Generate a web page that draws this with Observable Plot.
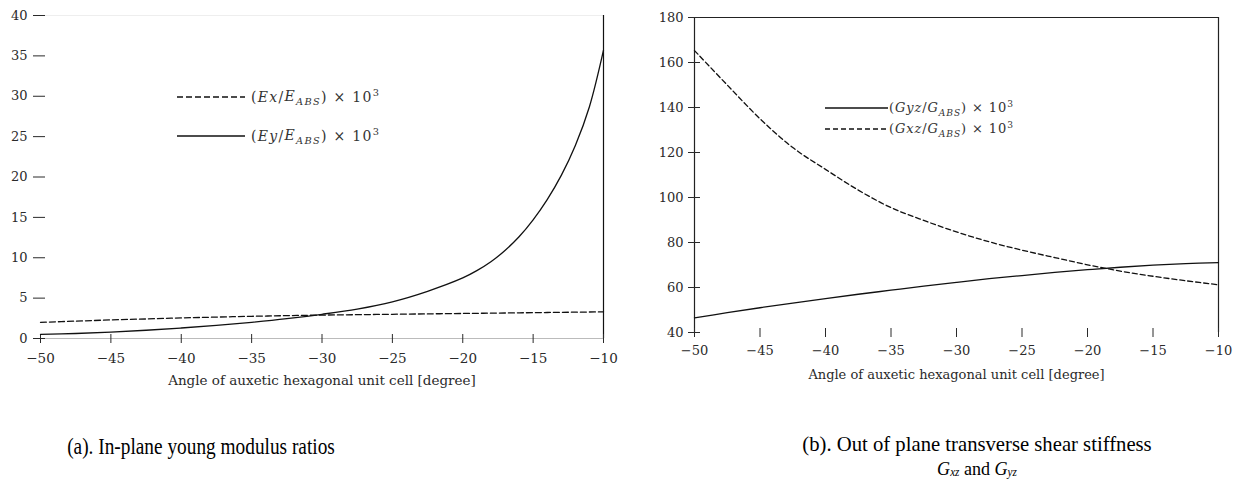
<!DOCTYPE html>
<html>
<head>
<meta charset="utf-8">
<script src="https://cdn.jsdelivr.net/npm/d3@7"></script>
<script src="https://cdn.jsdelivr.net/npm/@observablehq/plot@0.6"></script>
<style>
  html, body { margin: 0; padding: 0; background: #fff; }
  #wrap { position: relative; width: 1241px; height: 479px; overflow: hidden; font-family: "Liberation Serif", "DejaVu Serif", serif; }
  .panel { position: absolute; top: 0; }
  .legend { position: absolute; font-family: "DejaVu Serif", serif; color: #333; white-space: nowrap; }
  .legend .row { position: absolute; display: flex; align-items: center; white-space: nowrap; height: 20px; }
  .legend svg { display: block; }
  .caption { position: absolute; font-family: "Liberation Serif", "Times New Roman", serif; font-size: 23px; color: #000; text-align: center; white-space: nowrap; }
  .caption sub { font-size: 0.62em; vertical-align: -0.12em; line-height: 0; }
  .legend sub, .legend sup { font-size: 0.7em; }
</style>
</head>
<body>
<div id="wrap">
  <div id="plotA" class="panel" style="left:0px"></div>
  <div id="plotB" class="panel" style="left:620px"></div>
  <div id="legA"></div>
  <div id="legB"></div>
  <div class="caption" style="left:1px; width:400px; top:434px; line-height:26px; transform: scaleX(0.84);">(a). In-plane young modulus ratios</div>
  <div class="caption" style="left:777px; width:400px; top:433px; font-size:22px; line-height:22px; transform: scaleX(0.94);">(b). Out of plane transverse shear stiffness</div>
  <div class="caption" style="left:777px; width:400px; top:459px; font-size:19px; line-height:19px; transform: scaleX(0.95);"><i>G<sub>xz</sub></i> and <i>G<sub>yz</sub></i></div>
</div>
<script>
// ---------- data ----------
const angleE = [-50, -47.5, -45, -42.5, -40, -37.5, -35, -32.5, -30, -27.5, -25, -22.5, -20, -19, -18, -17, -16, -15, -14, -13, -12, -11, -10];
const ratioEx = [2.0, 2.15, 2.3, 2.42, 2.55, 2.65, 2.75, 2.83, 2.9, 2.95, 3.0, 3.05, 3.1, 3.12, 3.14, 3.16, 3.18, 3.2, 3.22, 3.24, 3.26, 3.28, 3.3];
const ratioEy = [0.5, 0.62, 0.8, 1.02, 1.3, 1.62, 2.0, 2.45, 3.0, 3.65, 4.55, 5.85, 7.5, 8.4, 9.5, 10.9, 12.6, 14.7, 17.2, 20.2, 23.9, 28.7, 35.7];

const angleG = [-50, -47.5, -45, -42.5, -40, -37.5, -35, -32.5, -30, -27.5, -25, -22.5, -20, -17.5, -15, -12.5, -10];
const ratioGxz = [165.3, 150, 135, 122.2, 112.5, 103.3, 95.5, 89.8, 84.7, 80.3, 76.6, 73.3, 70.1, 67.3, 65.0, 63.0, 61.2];
const ratioGyz = [46.5, 48.8, 51, 53.1, 55.1, 57, 58.8, 60.6, 62.3, 63.9, 65.3, 66.7, 67.9, 69.0, 69.9, 70.6, 71.1];

const xTicks = [-50, -45, -40, -35, -30, -25, -20, -15, -10];
const yTicksA = [0, 5, 10, 15, 20, 25, 30, 35, 40];
const yTicksB = [40, 60, 80, 100, 120, 140, 160, 180];
const xTitle = "Angle of auxetic hexagonal unit cell [degree]";

const tableE = angleE.map((a, i) => ({angle: a, ex: ratioEx[i], ey: ratioEy[i]}));
const tableG = angleG.map((a, i) => ({angle: a, gxz: ratioGxz[i], gyz: ratioGyz[i]}));

const FONT = "'DejaVu Serif', 'Liberation Serif', serif";
const baseStyle = {fontFamily: FONT, fontSize: "13px", background: "transparent", color: "#2a2a2a", overflow: "visible"};

// ---------- panel (a) ----------
const plotA = Plot.plot({
  width: 620, height: 400,
  marginLeft: 40, marginRight: 17, marginTop: 15, marginBottom: 62,
  style: baseStyle,
  x: {domain: [-50, -10]},
  y: {domain: [0, 40]},
  marks: [
    Plot.ruleY([40], {stroke: "#eee"}),
    Plot.ruleY([0], {stroke: "#bbb"}),
    Plot.ruleX([-10], {stroke: "#111", strokeWidth: 1.2}),
    Plot.axisY({ticks: yTicksA, tickSize: 12, dx: 5, tickPadding: 6, label: null, fontSize: 13, fontFamily: FONT}),
    Plot.axisX({ticks: xTicks, tickSize: 9, dy: -4, tickPadding: 10, label: xTitle, labelAnchor: "center", labelArrow: "none", labelOffset: 46, fontSize: 13.5, fontFamily: FONT}),
    Plot.line(tableE, {x: "angle", y: "ex", stroke: "#111", strokeWidth: 1.3, strokeDasharray: "6,3", curve: "catmull-rom"}),
    Plot.line(tableE, {x: "angle", y: "ey", stroke: "#111", strokeWidth: 1.3, curve: "catmull-rom"})
  ]
});
document.getElementById("plotA").appendChild(plotA);

// ---------- panel (b) ----------
const plotB = Plot.plot({
  width: 621, height: 400,
  marginLeft: 74, marginRight: 23, marginTop: 17, marginBottom: 68,
  style: baseStyle,
  x: {domain: [-50, -10]},
  y: {domain: [40, 180]},
  marks: [
    Plot.ruleY([180], {stroke: "#222", strokeWidth: 1.2}),
    Plot.ruleX([-10], {stroke: "#222", strokeWidth: 1.2}),
    Plot.ruleX([-50], {stroke: "#222", strokeWidth: 1.2}),
    Plot.axisY({ticks: yTicksB, tickSize: 12, dx: 6, tickPadding: 5, label: null, fontSize: 13, fontFamily: FONT}),
    Plot.axisX({ticks: xTicks, tickSize: 9, dy: -4, tickPadding: 8, label: xTitle, labelAnchor: "center", labelArrow: "none", labelOffset: 46, fontSize: 13, fontFamily: FONT}),
    Plot.line(tableG, {x: "angle", y: "gxz", stroke: "#111", strokeWidth: 1.3, strokeDasharray: "5,3", curve: "catmull-rom"}),
    Plot.line(tableG, {x: "angle", y: "gyz", stroke: "#111", strokeWidth: 1.3, curve: "catmull-rom"})
  ]
});
document.getElementById("plotB").appendChild(plotB);

// ---------- legends ----------
function legend(containerId, left, top, items, lineLen, rowGap, gap, fontSize, spacing) {
  const box = document.getElementById(containerId);
  box.className = "legend";
  box.style.left = left + "px";
  box.style.top = top + "px";
  box.style.fontSize = fontSize + "px";
  box.style.letterSpacing = spacing + "px";
  items.forEach((it, i) => {
    const row = document.createElement("div");
    row.className = "row";
    row.style.top = (i * rowGap) + "px";
    row.innerHTML = `<svg width="${lineLen}" height="10"><line x1="0" y1="5" x2="${lineLen}" y2="5" stroke="#111" stroke-width="1.3" ${it.dash ? `stroke-dasharray="${it.dash}"` : ""}/></svg><span style="margin-left:${gap}px">${it.html}</span>`;
    box.appendChild(row);
  });
}
legend("legA", 177, 87, [
  {dash: "6,3", html: "(<i>Ex</i>/<i>E<sub>ABS</sub></i>) × 10<sup>3</sup>"},
  {dash: null, html: "(<i>Ey</i>/<i>E<sub>ABS</sub></i>) × 10<sup>3</sup>"}
], 68, 39, 6, 14, 1.3);
legend("legB", 825, 98, [
  {dash: null, html: "(<i>Gyz</i>/<i>G<sub>ABS</sub></i>) × 10<sup>3</sup>"},
  {dash: "5,3", html: "(<i>Gxz</i>/<i>G<sub>ABS</sub></i>) × 10<sup>3</sup>"}
], 63, 21, 1, 13, 0.9);
</script>
</body>
</html>
